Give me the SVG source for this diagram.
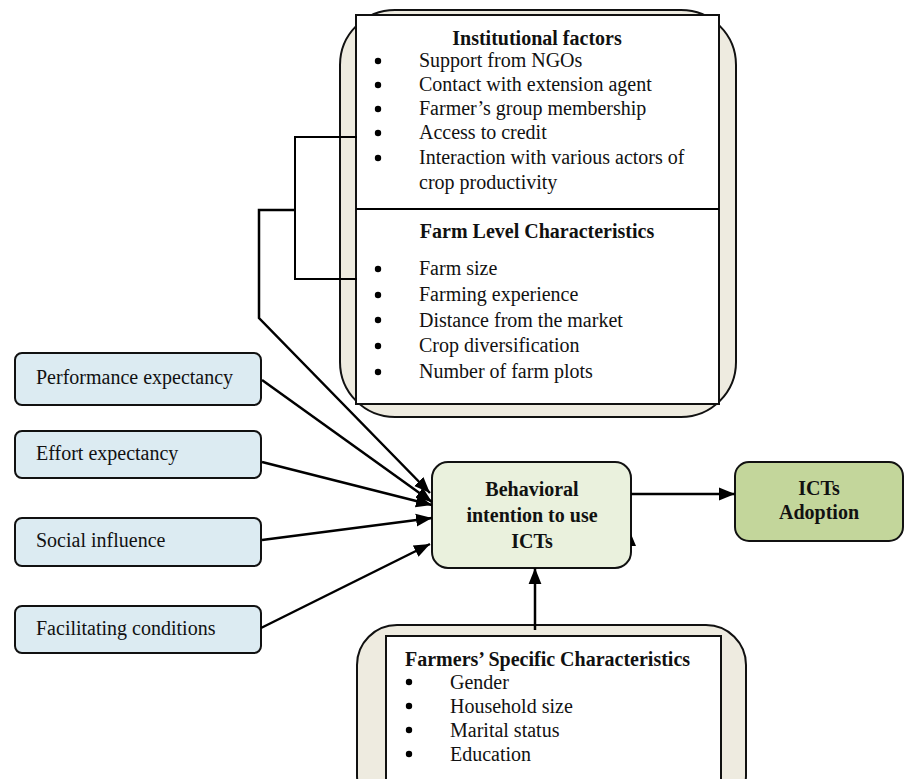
<svg xmlns="http://www.w3.org/2000/svg" width="904" height="779" viewBox="0 0 904 779">
<style>
text{font-family:"Liberation Serif","Times New Roman",serif;font-size:20px;fill:#111}
.b{font-weight:bold}
.m{text-anchor:middle}
.frame{fill:#EEEBE0;stroke:#111;stroke-width:2}
.inner{fill:#fff;stroke:#111;stroke-width:2}
.blue{fill:#DCEBF2;stroke:#111;stroke-width:2}
.ln{fill:none;stroke:#000;stroke-width:2.5}
.thin{fill:none;stroke:#000;stroke-width:2}
.dot{fill:#000}
</style>
<defs>
<marker id="ahL" viewBox="0 0 10 10" refX="10" refY="5" markerWidth="16" markerHeight="16" markerUnits="userSpaceOnUse" orient="auto">
<path d="M0,1 L10,5 L0,9 z" fill="#000"/>
</marker>
</defs>

<g id="top-factors">
<rect class="frame" x="340" y="10" width="396" height="407" rx="55" ry="55"/>
<rect class="inner" x="356" y="15" width="363" height="389"/>
<line class="thin" x1="356" y1="209" x2="719" y2="209"/>
<text class="b m" x="537" y="45">Institutional factors</text>
<g>
<circle class="dot" cx="378" cy="61" r="3.2"/><text x="419" y="67">Support from NGOs</text>
<circle class="dot" cx="378" cy="85" r="3.2"/><text x="419" y="91">Contact with extension agent</text>
<circle class="dot" cx="378" cy="109" r="3.2"/><text x="419" y="115">Farmer’s group membership</text>
<circle class="dot" cx="378" cy="133" r="3.2"/><text x="419" y="139">Access to credit</text>
<circle class="dot" cx="378" cy="158" r="3.2"/><text x="419" y="164">Interaction with various actors of</text>
<text x="419" y="189">crop productivity</text>
</g>
<text class="b m" x="537" y="238">Farm Level Characteristics</text>
<g>
<circle class="dot" cx="378" cy="269" r="3.2"/><text x="419" y="275">Farm size</text>
<circle class="dot" cx="378" cy="295" r="3.2"/><text x="419" y="301">Farming experience</text>
<circle class="dot" cx="378" cy="320" r="3.2"/><text x="419" y="327">Distance from the market</text>
<circle class="dot" cx="378" cy="346" r="3.2"/><text x="419" y="352">Crop diversification</text>
<circle class="dot" cx="378" cy="372" r="3.2"/><text x="419" y="378">Number of farm plots</text>
</g>
</g>

<g id="pe"><rect class="blue" x="15" y="353" width="246" height="52" rx="7"/><text x="36" y="384">Performance expectancy</text></g>
<g id="ee"><rect class="blue" x="15" y="431" width="246" height="47" rx="7"/><text x="36" y="460">Effort expectancy</text></g>
<g id="si"><rect class="blue" x="15" y="518" width="246" height="48" rx="7"/><text x="36" y="547">Social influence</text></g>
<g id="fc"><rect class="blue" x="15" y="606" width="246" height="47" rx="7"/><text x="36" y="635">Facilitating conditions</text></g>

<g id="behavioral">
<rect x="432" y="462" width="199" height="106" rx="16" fill="#EAF1DD" stroke="#111" stroke-width="2"/>
<text class="b m" x="532" y="496">Behavioral</text>
<text class="b m" x="532" y="522">intention to use</text>
<text class="b m" x="532" y="548">ICTs</text>
</g>

<g id="adoption">
<rect x="735" y="462" width="168" height="79" rx="14" fill="#C3D69B" stroke="#111" stroke-width="2"/>
<text class="b m" x="819" y="495">ICTs</text>
<text class="b m" x="819" y="519">Adoption</text>
</g>

<g id="farmers">
<rect class="frame" x="357" y="625" width="389" height="190" rx="40" ry="40"/>
<rect class="inner" x="386" y="636" width="335" height="160"/>
<text class="b" x="405" y="666">Farmers’ Specific Characteristics</text>
<circle class="dot" cx="409" cy="682" r="3.2"/><text x="450" y="689">Gender</text>
<circle class="dot" cx="409" cy="706" r="3.2"/><text x="450" y="713">Household size</text>
<circle class="dot" cx="409" cy="730" r="3.2"/><text x="450" y="737">Marital status</text>
<circle class="dot" cx="409" cy="754" r="3.2"/><text x="450" y="761">Education</text>
</g>

<g id="connectors">
<polyline class="thin" points="357,137 295,137 295,279 357,279"/>
<polyline class="ln" points="295,210 259,210 259,318 430,493" marker-end="url(#ahL)"/>
<line class="ln" x1="262" y1="380" x2="432" y2="502" marker-end="url(#ahL)"/>
<line class="ln" x1="262" y1="462" x2="432" y2="505" marker-end="url(#ahL)"/>
<line class="ln" x1="262" y1="540" x2="432" y2="518" marker-end="url(#ahL)"/>
<line class="ln" x1="261" y1="628" x2="430" y2="544" marker-end="url(#ahL)"/>
<line class="ln" x1="631" y1="494" x2="735" y2="494" marker-end="url(#ahL)"/>
<line class="ln" x1="535" y1="630" x2="535" y2="568" marker-end="url(#ahL)"/>
<path d="M631,546 L636,546 L631,534 z" fill="#000"/>
</g>
</svg>
